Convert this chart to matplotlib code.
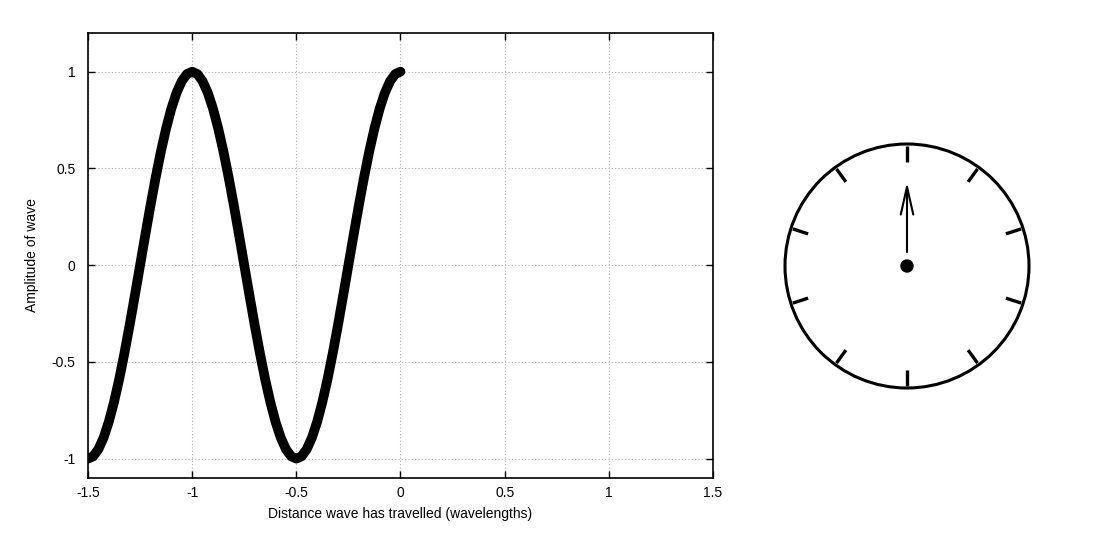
import numpy as np
import matplotlib
matplotlib.use('Agg')
import matplotlib.pyplot as plt
from matplotlib.patches import Circle

plt.rcParams['font.family'] = ['Liberation Sans', 'DejaVu Sans']

# wave samples (x in wavelengths)
wave_x = [-1.5 + 0.025 * i for i in range(61)]
wave_y = [-1.0, -0.988, -0.951, -0.891, -0.809, -0.707, -0.588, -0.454, -0.309, -0.156,
          0.0, 0.156, 0.309, 0.454, 0.588, 0.707, 0.809, 0.891, 0.951, 0.988,
          1.0, 0.988, 0.951, 0.891, 0.809, 0.707, 0.588, 0.454, 0.309, 0.156,
          0.0, -0.156, -0.309, -0.454, -0.588, -0.707, -0.809, -0.891, -0.951, -0.988,
          -1.0, -0.988, -0.951, -0.891, -0.809, -0.707, -0.588, -0.454, -0.309, -0.156,
          0.0, 0.156, 0.309, 0.454, 0.588, 0.707, 0.809, 0.891, 0.951, 0.988, 1.0]

x_ticks = [-1.5, -1, -0.5, 0, 0.5, 1, 1.5]
x_tick_labels = ['-1.5', '-1', '-0.5', '0', '0.5', '1', '1.5']
y_ticks = [-1, -0.5, 0, 0.5, 1]
y_tick_labels = ['-1', '-0.5', '0', '0.5', '1']

# clock face: 10 marks, 36 degrees apart
clock_marks_deg = [90, 126, 162, 198, 234, 270, 306, 342, 18, 54]
hand_deg = 90

W, H = 1119, 534
fig = plt.figure(figsize=(W / 100, H / 100), dpi=100)

ax = fig.add_axes([88 / W, 56 / H, 625 / W, 445 / H])
ax.plot(wave_x, wave_y, color='black', lw=7, solid_capstyle='round', solid_joinstyle='round')
ax.set_xlim(-1.5, 1.5)
ax.set_ylim(-1.1, 1.2)
ax.set_xticks(x_ticks)
ax.set_xticklabels(x_tick_labels)
ax.set_yticks(y_ticks)
ax.set_yticklabels(y_tick_labels)
ax.tick_params(direction='in', length=5, width=1, labelsize=10, top=True, right=True, pad=9)
ax.tick_params(axis='x', pad=6)
ax.grid(True, color='#b0b0b0', linestyle=(0, (1, 2)), lw=0.8)
for s in ax.spines.values():
    s.set_linewidth(1.2)
ax.set_xlabel('Distance wave has travelled (wavelengths)', fontsize=10, labelpad=5)
ax.set_ylabel('Amplitude of wave', fontsize=10, labelpad=9)

# clock axes in pixel units, centered on the dial
cx, cy = 907, 266
ax2 = fig.add_axes([(cx - 140) / W, (H - cy - 140) / H, 280 / W, 280 / H])
ax2.set_xlim(-140, 140)
ax2.set_ylim(-140, 140)
ax2.set_aspect('equal')
ax2.axis('off')
R = 122
ax2.add_patch(Circle((0, 0), R, fill=False, lw=2.2, ec='black'))
for a in clock_marks_deg:
    t = np.deg2rad(a)
    ax2.plot([104 * np.cos(t), 120 * np.cos(t)], [104 * np.sin(t), 120 * np.sin(t)],
             color='black', lw=2.4, solid_capstyle='butt')
th = np.deg2rad(hand_deg)
ax2.annotate('', xy=(84 * np.cos(th), 84 * np.sin(th)), xytext=(14 * np.cos(th), 14 * np.sin(th)),
             arrowprops=dict(arrowstyle='->,head_length=2.0,head_width=0.45', lw=1.5, color='black',
                             shrinkA=0, shrinkB=0))
ax2.add_patch(Circle((0, 0), 6, color='black'))

fig.savefig('out.png', dpi=100)
